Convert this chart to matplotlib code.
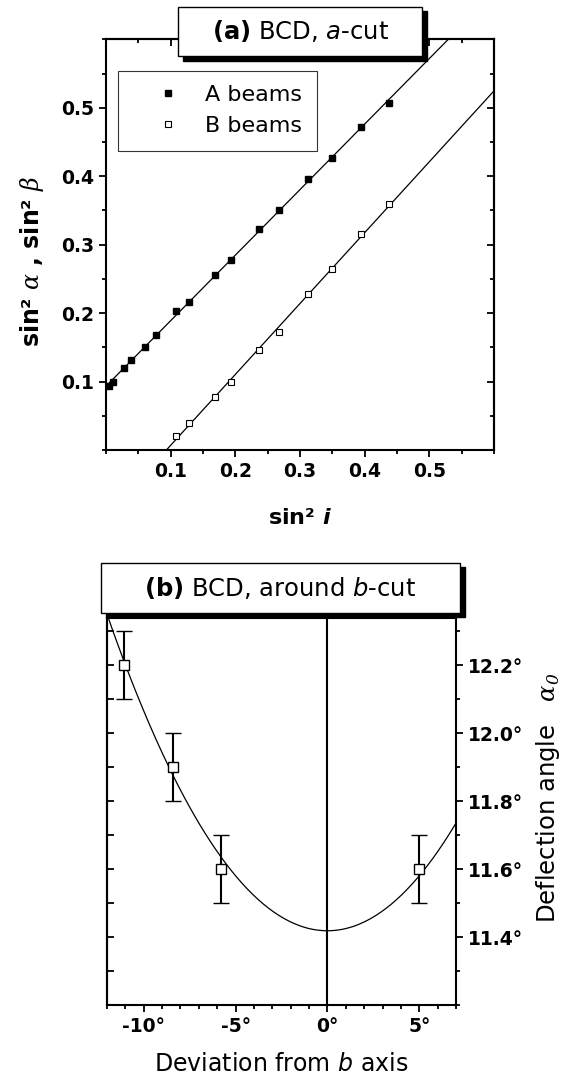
import numpy as np
import matplotlib
matplotlib.use("Agg")
import matplotlib.pyplot as plt
from matplotlib.patches import Rectangle
from matplotlib.ticker import FixedLocator, MultipleLocator, FuncFormatter, NullFormatter

plt.rcParams['font.family'] = ['DejaVu Sans']
plt.rcParams['axes.unicode_minus'] = False
plt.rcParams['mathtext.fontset'] = 'custom'
plt.rcParams['mathtext.rm'] = 'DejaVu Sans'
plt.rcParams['mathtext.it'] = 'DejaVu Sans:italic'
plt.rcParams['mathtext.bf'] = 'DejaVu Sans:bold'
plt.rcParams['mathtext.bfit'] = 'DejaVu Sans:italic:bold'
plt.rcParams['mathtext.sf'] = 'DejaVu Serif:italic'

# --- (a) BCD, a-cut : sin^2 alpha / sin^2 beta vs sin^2 i
a_x = [0.005, 0.011, 0.0275, 0.038, 0.061, 0.077, 0.109, 0.129, 0.168, 0.193,
       0.237, 0.268, 0.3125, 0.350, 0.395, 0.438]
a_y = [0.093, 0.100, 0.120, 0.131, 0.150, 0.168, 0.203, 0.216, 0.256, 0.278,
       0.323, 0.351, 0.396, 0.426, 0.472, 0.507]
b_x = [0.109, 0.129, 0.168, 0.193, 0.237, 0.268, 0.3125, 0.350, 0.395, 0.438]
b_y = [0.021, 0.039, 0.078, 0.100, 0.146, 0.173, 0.228, 0.265, 0.316, 0.359]
top_ticks = [0.1, 0.2, 0.3, 0.4, 0.5]

# --- (b) BCD, around b-cut : deflection angle vs deviation from b axis
dev = [-11.05, -8.4, -5.8, 5.0]
angle = [12.2, 11.9, 11.6, 11.6]
angle_err = [0.1, 0.1, 0.1, 0.1]
dev_ticks = [-10, -5, 0, 5]
angle_ticks = [11.4, 11.6, 11.8, 12.0, 12.2]

W, H = 568, 1078
fig = plt.figure(figsize=(W / 100, H / 100), dpi=100)


def px(x0, y0, x1, y1):
    # pixel box (from top-left) -> figure fraction rect
    return [x0 / W, 1 - y1 / H, (x1 - x0) / W, (y1 - y0) / H]


def title_box(x0, y0, x1, y1, label, sh=4.5):
    fig.add_artist(Rectangle(((x0 + sh) / W, 1 - (y1 + sh) / H), (x1 - x0) / W, (y1 - y0) / H,
                             transform=fig.transFigure, facecolor='black', edgecolor='black',
                             zorder=5))
    fig.add_artist(Rectangle((x0 / W, 1 - y1 / H), (x1 - x0) / W, (y1 - y0) / H,
                             transform=fig.transFigure, facecolor='white', edgecolor='black',
                             lw=1, zorder=6))
    fig.text((x0 + x1) / 2 / W, 1 - (y0 + y1) / 2 / H, label, ha='center', va='center',
             fontsize=17.5, zorder=7)


def style_spines(ax):
    for s in ax.spines.values():
        s.set_linewidth(1.5)


# ---------------- top panel ----------------
ax1 = fig.add_axes(px(106, 39.3, 494, 450))
style_spines(ax1)
xx = np.linspace(0, 0.6, 50)
pa = np.polyfit(a_x, a_y, 1)
pb = np.polyfit(b_x, b_y, 1)
ax1.plot(xx, np.polyval(pa, xx), color='black', lw=0.9)
ax1.plot(xx, np.polyval(pb, xx), color='black', lw=0.9)
ax1.plot(a_x, a_y, 's', color='black', ms=4.5, ls='none', label='A beams')
ax1.plot(b_x, b_y, 's', mfc='white', mec='black', mew=0.8, ms=4.5, ls='none', label='B beams')
ax1.set_xlim(0, 0.6)
ax1.set_ylim(0, 0.6)

fmt1 = FuncFormatter(lambda v, p: f"{v:.1f}")
for axis in (ax1.xaxis, ax1.yaxis):
    axis.set_major_locator(FixedLocator(top_ticks))
    axis.set_minor_locator(MultipleLocator(0.05))
    axis.set_major_formatter(fmt1)
ax1.tick_params(which='both', direction='out', width=1.3, labelsize=13.5)
ax1.tick_params(which='major', length=5)
ax1.tick_params(which='minor', length=3)
for lab in ax1.get_xticklabels() + ax1.get_yticklabels():
    lab.set_fontweight('bold')

sec_t = ax1.secondary_xaxis('top')
sec_t.xaxis.set_major_locator(FixedLocator(top_ticks))
sec_t.xaxis.set_minor_locator(MultipleLocator(0.05))
sec_t.xaxis.set_major_formatter(NullFormatter())
sec_r = ax1.secondary_yaxis('right')
sec_r.yaxis.set_major_locator(FixedLocator(top_ticks))
sec_r.yaxis.set_minor_locator(MultipleLocator(0.05))
sec_r.yaxis.set_major_formatter(NullFormatter())
for sec in (sec_t, sec_r):
    sec.tick_params(which='both', direction='in', width=1.3)
    sec.tick_params(which='major', length=5)
    sec.tick_params(which='minor', length=3)
    for s in sec.spines.values():
        s.set_linewidth(1.5)

ax1.set_xlabel(r"sin² $\mathbfit{i}$", fontsize=16, fontweight='bold')
ax1.xaxis.set_label_coords(0.5, -0.1656)
ax1.xaxis.label.set_va('center')
ax1.set_ylabel(r"sin² $\mathsf{\alpha}$ , sin² $\mathsf{\beta}$", fontsize=17, fontweight='bold')
ax1.yaxis.set_label_coords(-0.19, 0.46)
ax1.yaxis.label.set_va('center')

leg = ax1.legend(loc='upper left', bbox_to_anchor=(0.032, 0.9236), borderaxespad=0,
                 fontsize=16, frameon=True, fancybox=False, numpoints=1,
                 handlelength=3.2, handletextpad=0.05, borderpad=0.65, labelspacing=0.5)
leg.get_frame().set_edgecolor('black')
leg.get_frame().set_linewidth(0.8)

title_box(178.3, 6.7, 422.3, 56, r"$\mathbf{(a)}$ BCD, $\mathit{a}$-cut")

# ---------------- bottom panel ----------------
ax2 = fig.add_axes(px(107, 617.7, 456, 1005))
style_spines(ax2)
dev_a = np.array(dev)
A = np.column_stack([np.ones_like(dev_a), dev_a ** 2])
coef = np.linalg.lstsq(A, np.array(angle), rcond=None)[0]
xc = np.linspace(-12, 7, 200)
ax2.plot(xc, coef[0] + coef[1] * xc ** 2, color='black', lw=0.9)
ax2.axvline(0, color='black', lw=1.5)
ax2.errorbar(dev, angle, yerr=angle_err, fmt='s', mfc='white', mec='black', mew=1,
             ms=6.5, ecolor='black', elinewidth=1.5, capsize=5.5, capthick=1.5, zorder=4)
ax2.set_xlim(-12, 7)
ax2.set_ylim(11.2, 12.34)

ax2.xaxis.set_major_locator(FixedLocator(dev_ticks))
ax2.xaxis.set_minor_locator(MultipleLocator(1))
ax2.xaxis.set_major_formatter(FuncFormatter(lambda v, p: f"{v:g}°"))
ax2.yaxis.tick_right()
ax2.yaxis.set_label_position('right')
ax2.yaxis.set_major_locator(FixedLocator(angle_ticks))
ax2.yaxis.set_minor_locator(MultipleLocator(0.1))
ax2.yaxis.set_major_formatter(FuncFormatter(lambda v, p: f"{v:.1f}°"))
ax2.tick_params(which='both', direction='out', width=1.3, labelsize=13.5)
ax2.tick_params(which='major', length=5)
ax2.tick_params(which='minor', length=3)
for lab in ax2.get_xticklabels() + ax2.get_yticklabels():
    lab.set_fontweight('bold')

sec_l = ax2.secondary_yaxis('left')
sec_l.yaxis.set_major_locator(FixedLocator(angle_ticks))
sec_l.yaxis.set_minor_locator(MultipleLocator(0.1))
sec_l.yaxis.set_major_formatter(NullFormatter())
sec_l.tick_params(which='both', direction='in', width=1.3, length=5)
for s in sec_l.spines.values():
    s.set_linewidth(1.5)

ax2.set_xlabel(r"Deviation from $\mathit{b}$ axis", fontsize=17)
ax2.xaxis.set_label_coords(0.5, -0.152)
ax2.xaxis.label.set_va('center')
ax2.set_ylabel(r"Deflection angle   $\mathsf{\alpha}_\mathsf{0}$", fontsize=17.5, rotation=90)
ax2.yaxis.set_label_coords(1.265, 0.5345)
ax2.yaxis.label.set_va('center')

title_box(101, 562.7, 460, 612.7, r"$\mathbf{(b)}$ BCD, around $\mathit{b}$-cut")

fig.savefig("out.png", dpi=100)
